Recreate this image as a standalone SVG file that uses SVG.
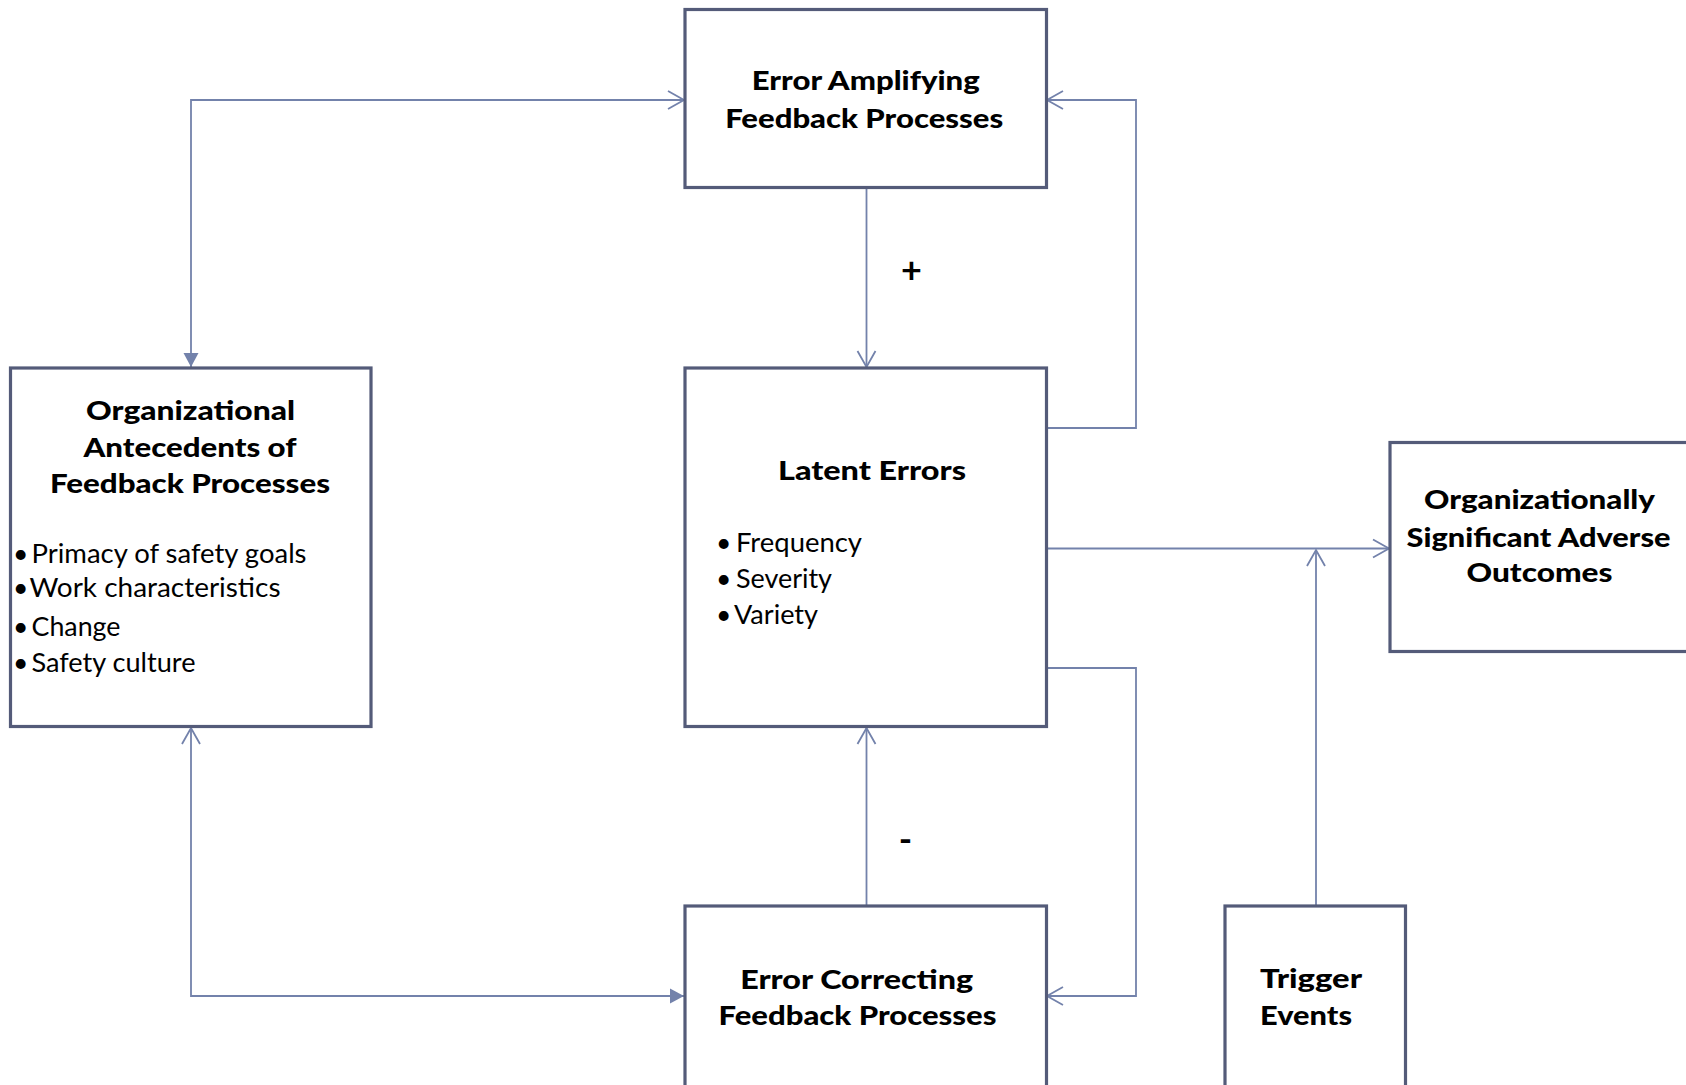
<svg xmlns="http://www.w3.org/2000/svg" width="1686" height="1085" viewBox="0 0 1686 1085">
<style>
.box{fill:#ffffff;stroke:#545b79;stroke-width:3.2}
.conn{fill:none;stroke:#7382ab;stroke-width:1.8}
.t{font-family:Lato,"Open Sans","Liberation Sans",sans-serif;font-weight:900;font-size:26.5px;fill:#000}
.b{font-family:Lato,"Open Sans","Liberation Sans",sans-serif;font-weight:400;font-size:26.5px;fill:#000}
.sign{font-family:Lato,"Liberation Sans",sans-serif;font-weight:700;font-size:36px;fill:#000}
</style>
<defs>
<marker id="open" viewBox="-18 -11 20 22" refX="0" refY="0" markerWidth="20" markerHeight="22" markerUnits="userSpaceOnUse" orient="auto-start-reverse">
<path d="M -16 -9 L 0 0 L -16 9" fill="none" stroke="#7382ab" stroke-width="1.8"/>
</marker>
<marker id="filled" viewBox="-16 -9 17 18" refX="0" refY="0" markerWidth="17" markerHeight="18" markerUnits="userSpaceOnUse" orient="auto-start-reverse">
<path d="M -14 -7.5 L 0 0 L -14 7.5 Z" fill="#7382ab"/>
</marker>
</defs>
<rect width="1686" height="1085" fill="#ffffff"/>

<g id="connectors">
<path class="conn" d="M191 367 L191 100 L684 100" marker-start="url(#filled)" marker-end="url(#open)"/>
<path class="conn" d="M191 728 L191 996 L684 996" marker-start="url(#open)" marker-end="url(#filled)"/>
<path class="conn" d="M866.5 189 L866.5 367" marker-end="url(#open)"/>
<path class="conn" d="M866.5 905 L866.5 728" marker-end="url(#open)"/>
<path class="conn" d="M1047 428 L1136 428 L1136 100 L1047 100" marker-end="url(#open)"/>
<path class="conn" d="M1047 668 L1136 668 L1136 996 L1047 996" marker-end="url(#open)"/>
<path class="conn" d="M1047 548.5 L1389 548.5" marker-end="url(#open)"/>
<path class="conn" d="M1316 905 L1316 550" marker-end="url(#open)"/>
<text class="sign" x="911.5" y="283" text-anchor="middle">+</text>
<text class="sign" x="905.5" y="852" text-anchor="middle">-</text>
</g>

<g id="amplifying">
<rect class="box" x="685" y="9.5" width="361.5" height="178"/>
<text class="t" x="865.8" y="90" text-anchor="middle" textLength="228" lengthAdjust="spacingAndGlyphs">Error Amplifying</text>
<text class="t" x="864.2" y="127.5" text-anchor="middle" textLength="278" lengthAdjust="spacingAndGlyphs">Feedback Processes</text>
</g>

<g id="antecedents">
<rect class="box" x="10.5" y="368" width="360.5" height="358.5"/>
<text class="t" x="190.5" y="420" text-anchor="middle" textLength="209" lengthAdjust="spacingAndGlyphs">Organizational</text>
<text class="t" x="190" y="456.5" text-anchor="middle" textLength="213" lengthAdjust="spacingAndGlyphs">Antecedents of</text>
<text class="t" x="190" y="492.5" text-anchor="middle" textLength="280" lengthAdjust="spacingAndGlyphs">Feedback Processes</text>
<text class="b" x="13" y="562.5">•</text><text class="b" x="31.5" y="562.5" textLength="275" lengthAdjust="spacingAndGlyphs">Primacy of safety goals</text>
<text class="b" x="13" y="597">•</text><text class="b" x="29.5" y="597" textLength="251" lengthAdjust="spacingAndGlyphs">Work characteristics</text>
<text class="b" x="13" y="636">•</text><text class="b" x="31.5" y="636" textLength="89" lengthAdjust="spacingAndGlyphs">Change</text>
<text class="b" x="13" y="671.5">•</text><text class="b" x="31.5" y="671.5" textLength="164" lengthAdjust="spacingAndGlyphs">Safety culture</text>
</g>

<g id="latent">
<rect class="box" x="685" y="368" width="361.5" height="358.5"/>
<text class="t" x="872" y="479.5" text-anchor="middle" textLength="188" lengthAdjust="spacingAndGlyphs">Latent Errors</text>
<text class="b" x="716" y="552">•</text><text class="b" x="736" y="552" textLength="126" lengthAdjust="spacingAndGlyphs">Frequency</text>
<text class="b" x="716" y="587.5">•</text><text class="b" x="736" y="587.5" textLength="96" lengthAdjust="spacingAndGlyphs">Severity</text>
<text class="b" x="716" y="623.5">•</text><text class="b" x="734" y="623.5" textLength="84" lengthAdjust="spacingAndGlyphs">Variety</text>
</g>

<g id="outcomes">
<rect class="box" x="1390" y="442.5" width="320" height="209"/>
<text class="t" x="1539.5" y="508.5" text-anchor="middle" textLength="231" lengthAdjust="spacingAndGlyphs">Organizationally</text>
<text class="t" x="1538.5" y="546.5" text-anchor="middle" textLength="264" lengthAdjust="spacingAndGlyphs">Significant Adverse</text>
<text class="t" x="1539.5" y="581.5" text-anchor="middle" textLength="146" lengthAdjust="spacingAndGlyphs">Outcomes</text>
</g>

<g id="correcting">
<rect class="box" x="685" y="906" width="361.5" height="200"/>
<text class="t" x="856.7" y="988.5" text-anchor="middle" textLength="233" lengthAdjust="spacingAndGlyphs">Error Correcting</text>
<text class="t" x="857.5" y="1025" text-anchor="middle" textLength="278" lengthAdjust="spacingAndGlyphs">Feedback Processes</text>
</g>

<g id="trigger">
<rect class="box" x="1225" y="906" width="180.5" height="200"/>
<text class="t" x="1260" y="988" textLength="102" lengthAdjust="spacingAndGlyphs">Trigger</text>
<text class="t" x="1260" y="1025" textLength="92" lengthAdjust="spacingAndGlyphs">Events</text>
</g>
</svg>
